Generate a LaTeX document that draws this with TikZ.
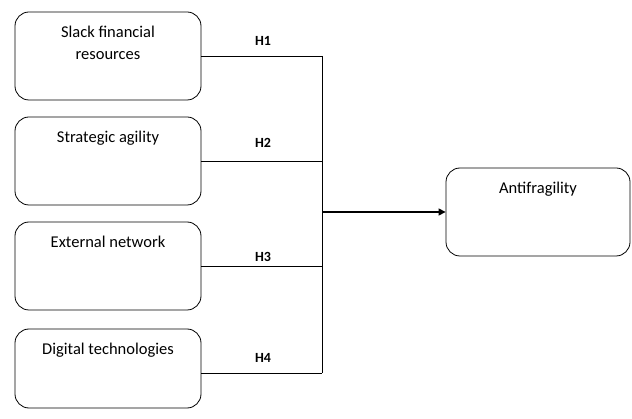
\documentclass[tikz,border=0pt]{standalone}
\usepackage{fontspec}
\setmainfont{Carlito}
\usetikzlibrary{arrows.meta}
\tikzset{
  box/.style={draw, rounded corners=14pt, line width=0.8pt, inner sep=0pt, minimum width=186pt, minimum height=88pt},
  hlab/.style={font=\bfseries\fontsize{14}{16}\selectfont, inner sep=0pt},
  conn/.style={line width=0.9pt},
}
\newcommand{\boxtxt}[3][186pt]{\begin{minipage}[c][#2][t]{#1}\centering\fontsize{16.5}{22}\selectfont\vspace*{14.5pt}#3\end{minipage}}
\begin{document}
\begin{tikzpicture}[x=1pt,y=-1pt]
\useasboundingbox (0,0) rectangle (632,419);
\node[box] (a) at (108,56) {\boxtxt{88pt}{Slack financial\\resources}};
\node[box] (b) at (108,161) {\boxtxt{88pt}{Strategic agility}};
\node[box] (c) at (108,266) {\boxtxt{88pt}{External network}};
\node[box, minimum height=79pt] (d) at (108,368.5) {\boxtxt{79pt}{Digital technologies}};
\node[box, minimum width=184pt] (e) at (538,212) {\boxtxt[184pt]{88pt}{Antifragility}};
\coordinate (j) at (322,0);
\draw[conn] (a.east) -- (a.east -| j);
\draw[conn] (b.east) -- (b.east -| j);
\draw[conn] (c.east) -- (c.east -| j);
\draw[conn] (d.east |- 0,373) -- (j |- 0,373);
\draw[conn] (a.east -| j) -- (j |- 0,373);
\draw[line width=1.2pt, -{Triangle[length=7pt,width=7pt]}] (j |- e.west) -- (e.west);
\node[hlab] (h1) at (263,41) {H1};
\node[hlab] (h2) at (263,143) {H2};
\node[hlab] (h3) at (263,257) {H3};
\node[hlab] (h4) at (263,358) {H4};
\end{tikzpicture}
\end{document}
